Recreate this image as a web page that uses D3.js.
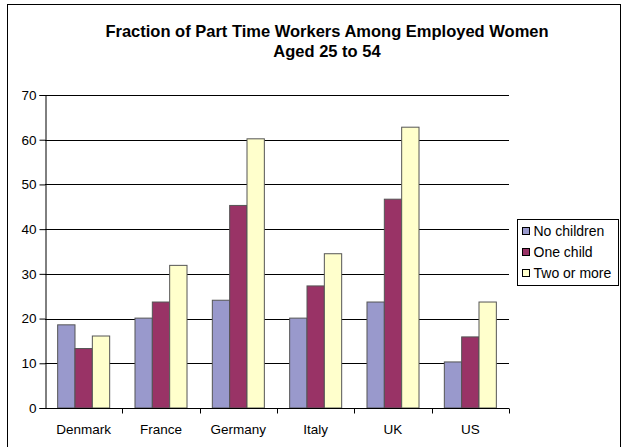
<!DOCTYPE html>
<html>
<head>
<meta charset="utf-8">
<script src="https://cdn.jsdelivr.net/npm/d3@7"></script>
<style>
  body { margin: 0; background: #fff; }
  text { font-family: "Liberation Sans", Arial, sans-serif; fill: #000; }
</style>
</head>
<body>
<div id="chart"></div>
<script>
// chart data
const countries = ["Denmark", "France", "Germany", "Italy", "UK", "US"];
const seriesNames = ["No children", "One child", "Two or more"];
const noChildren = [18.6, 20.1, 24.1, 20.1, 23.7, 10.3];
const oneChild = [13.3, 23.7, 45.3, 27.3, 46.7, 15.9];
const twoOrMore = [16.1, 31.9, 60.2, 34.5, 62.8, 23.7];
const yTicks = [0, 10, 20, 30, 40, 50, 60, 70];
const titleLines = ["Fraction of Part Time Workers Among Employed Women", "Aged 25 to 54"];

const width = 623;
const height = 447;
const marginTop = 95;
const marginLeft = 45;
const marginRight = 114;
const marginBottom = 39;

const table = countries.map((c, i) => ({
    country: c,
    "No children": noChildren[i],
    "One child": oneChild[i],
    "Two or more": twoOrMore[i]
}));

const svg = d3.select("#chart")
    .append("svg")
    .attr("width", width)
    .attr("height", height);

// outer frame
svg.append("rect")
    .attr("x", 7.5)
    .attr("y", 4.5)
    .attr("width", 613)
    .attr("height", 460)
    .attr("fill", "none")
    .attr("stroke", "#000")
    .attr("stroke-width", 1);

const x = d3.scaleBand()
    .domain(countries)
    .range([marginLeft, width - marginRight]);

const x1 = d3.scaleBand()
    .domain(seriesNames)
    .range([0, x.bandwidth()])
    .paddingInner(0)
    .paddingOuter(0.73);

const y = d3.scaleLinear()
    .domain([0, 70])
    .range([height - marginBottom, marginTop]);

const color = d3.scaleOrdinal()
    .domain(seriesNames)
    .range(["#9999cc", "#993366", "#ffffcc"]);

// grid lines
svg.append("g")
    .selectAll("line")
    .data(yTicks.filter(d => d > 0))
    .join("line")
    .attr("x1", marginLeft)
    .attr("x2", width - marginRight)
    .attr("y1", d => Math.round(y(d)) + 0.5)
    .attr("y2", d => Math.round(y(d)) + 0.5)
    .attr("stroke", "#000");

// bars
svg.append("g")
    .selectAll("g")
    .data(table)
    .join("g")
    .attr("transform", d => `translate(${x(d.country)},0)`)
    .selectAll("rect")
    .data(d => seriesNames.map(k => ({ key: k, value: d[k] })))
    .join("rect")
    .attr("x", d => x1(d.key))
    .attr("y", d => y(d.value))
    .attr("width", x1.bandwidth())
    .attr("height", d => y(0) - y(d.value))
    .attr("fill", d => color(d.key))
    .attr("stroke", "#555")
    .attr("stroke-width", 1);

// y axis
svg.append("g")
    .attr("transform", `translate(${marginLeft + 0.5},0)`)
    .call(d3.axisLeft(y).tickValues(yTicks).tickSize(6).tickPadding(3).tickFormat(d3.format("d")))
    .call(g => g.select(".domain").attr("stroke", "#000"))
    .call(g => g.selectAll(".tick text").attr("font-size", 13.5).attr("font-family", "'Liberation Sans', Arial, sans-serif"));

// x axis
const xAxis = svg.append("g")
    .attr("transform", `translate(0,${Math.round(y(0)) + 0.5})`);
xAxis.append("line")
    .attr("x1", marginLeft)
    .attr("x2", width - marginRight)
    .attr("stroke", "#000");
xAxis.selectAll(".sep")
    .data(countries.slice(1).concat(["end"]))
    .join("line")
    .attr("class", "sep")
    .attr("x1", (d, i) => Math.round(marginLeft + (i + 1) * x.step()) + 0.5)
    .attr("x2", (d, i) => Math.round(marginLeft + (i + 1) * x.step()) + 0.5)
    .attr("y1", 0)
    .attr("y2", 5)
    .attr("stroke", "#000");
xAxis.selectAll("text")
    .data(countries)
    .join("text")
    .attr("x", d => x(d) + x.bandwidth() / 2)
    .attr("y", 25)
    .attr("text-anchor", "middle")
    .attr("font-size", 13.5)
    .text(d => d);

// title
svg.append("g")
    .selectAll("text")
    .data(titleLines)
    .join("text")
    .attr("x", 327)
    .attr("y", (d, i) => 37 + i * 20)
    .attr("text-anchor", "middle")
    .attr("font-size", 16.5)
    .attr("font-weight", "bold")
    .text(d => d);

// legend
const legend = svg.append("g")
    .attr("transform", "translate(517,219)");
legend.append("rect")
    .attr("x", 0.5)
    .attr("y", 0.5)
    .attr("width", 101)
    .attr("height", 66)
    .attr("fill", "#fff")
    .attr("stroke", "#000");
const items = legend.selectAll(".item")
    .data(seriesNames)
    .join("g")
    .attr("class", "item")
    .attr("transform", (d, i) => `translate(5.5,${8.5 + i * 21})`);
items.append("rect")
    .attr("width", 7)
    .attr("height", 7)
    .attr("fill", d => color(d))
    .attr("stroke", "#000");
items.append("text")
    .attr("x", 11)
    .attr("y", 8)
    .attr("font-size", 14)
    .text(d => d);
</script>
</body>
</html>
